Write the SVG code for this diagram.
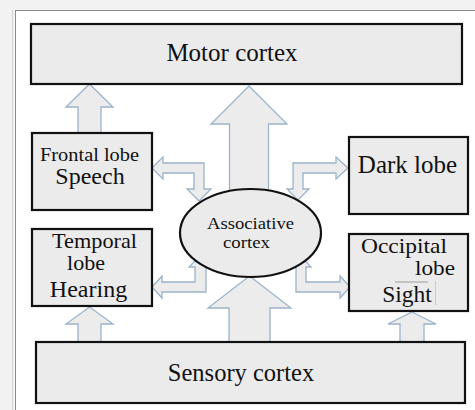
<svg xmlns="http://www.w3.org/2000/svg" width="475" height="410" viewBox="0 0 475 410">
  <style>
    .box { fill: #ebebeb; stroke: #111; stroke-width: 2.2; }
    .arrow { fill: #ececec; stroke: #9cb3ca; stroke-width: 1.3; stroke-linejoin: miter; }
    .lbl { font-family: "Liberation Serif", "Times New Roman", serif; fill: #111; }
  </style>

  <!-- page background and frame -->
  <rect x="0" y="0" width="475" height="410" fill="#f2f2f2"/>
  <rect x="15.5" y="10.5" width="470" height="410" fill="#ffffff" stroke="#8c8c8c" stroke-width="1"/>
  <line x1="12.5" y1="10" x2="12.5" y2="410" stroke="#d4d4d4" stroke-width="1"/>

  <!-- connectors (drawn under the boxes and the ellipse) -->
  <g id="connectors">
    <!-- frontal lobe -> motor cortex -->
    <path class="arrow" d="M89.5,84 L113,107 L101,107 L101,133 L78,133 L78,107 L66,107 Z"/>
    <!-- associative cortex -> motor cortex -->
    <path class="arrow" d="M249,86 L287,124 L268.5,124 L268.5,200 L229.5,200 L229.5,124 L211,124 Z"/>
    <!-- sensory cortex -> associative cortex -->
    <path class="arrow" d="M249.5,276 L291,308 L270,308 L270,342 L229,342 L229,308 L208,308 Z"/>
    <!-- sensory cortex -> temporal lobe -->
    <path class="arrow" d="M89.5,307 L113,324 L101,324 L101,342 L78,342 L78,324 L66,324 Z"/>
    <!-- sensory cortex -> occipital lobe -->
    <path class="arrow" d="M412,312 L436,324 L424,324 L424,342 L400,342 L400,324 L388,324 Z"/>
    <!-- frontal lobe <-> associative cortex -->
    <path class="arrow" d="M152,168 L163,157 L163,163 L204,163 L204,189 L211,189 L199,201 L187,189 L194,189 L194,173 L163,173 L163,179 Z"/>
    <!-- dark lobe <-> associative cortex -->
    <path class="arrow" d="M348,168 L336,157 L336,163 L293,163 L293,189 L287,189 L298,200 L309,189 L303,189 L303,173 L336,173 L336,179 Z"/>
    <!-- temporal lobe <-> associative cortex -->
    <path class="arrow" d="M152,287 L162,276 L162,282 L195,282 L195,267 L189,267 L200,256 L211,267 L206,267 L206,292 L162,292 L162,298 Z"/>
    <!-- occipital lobe <-> associative cortex -->
    <path class="arrow" d="M350,287 L340,276 L340,282 L306,282 L306,267 L311,267 L301,256 L291,267 L296,267 L296,292 L340,292 L340,298 Z"/>
  </g>

  <g id="motor-cortex">
    <rect class="box" x="31" y="24" width="431" height="60"/>
    <text class="lbl" x="232" y="61" font-size="25" text-anchor="middle">Motor cortex</text>
  </g>

  <g id="frontal-lobe">
    <rect class="box" x="32" y="133" width="120" height="77"/>
    <text class="lbl" x="89.5" y="161" font-size="19.5" text-anchor="middle" textLength="99" lengthAdjust="spacingAndGlyphs">Frontal lobe</text>
    <text class="lbl" x="90" y="184" font-size="24" text-anchor="middle">Speech</text>
  </g>

  <g id="temporal-lobe">
    <rect class="box" x="32" y="229" width="120" height="77"/>
    <text class="lbl" x="94.5" y="248" font-size="21" text-anchor="middle" textLength="85" lengthAdjust="spacingAndGlyphs">Temporal</text>
    <text class="lbl" x="86" y="270" font-size="21" text-anchor="middle" textLength="38" lengthAdjust="spacingAndGlyphs">lobe</text>
    <text class="lbl" x="88.5" y="297" font-size="24" text-anchor="middle">Hearing</text>
  </g>

  <g id="dark-lobe">
    <rect class="box" x="349" y="137" width="119" height="77"/>
    <text class="lbl" x="407.5" y="173" font-size="25" text-anchor="middle">Dark lobe</text>
  </g>

  <g id="occipital-lobe">
    <rect class="box" x="349" y="234" width="119" height="77"/>
    <text class="lbl" x="404" y="253" font-size="22" text-anchor="middle" textLength="86" lengthAdjust="spacingAndGlyphs">Occipital</text>
    <text class="lbl" x="455" y="275" font-size="22" text-anchor="end" textLength="40" lengthAdjust="spacingAndGlyphs">lobe</text>
    <text class="lbl" x="407" y="302" font-size="23.5" text-anchor="middle">Sight</text>
    <line x1="395" y1="282" x2="428" y2="282" stroke="#8a8a8a" stroke-width="0.8"/>
    <line x1="435.5" y1="281" x2="435.5" y2="305" stroke="#c4c4c4" stroke-width="0.8"/>
  </g>

  <g id="sensory-cortex">
    <rect class="box" x="36" y="342" width="429" height="61"/>
    <text class="lbl" x="241" y="381" font-size="24.5" text-anchor="middle">Sensory cortex</text>
  </g>

  <g id="associative-cortex">
    <ellipse cx="250.5" cy="233" rx="70.5" ry="44" fill="#ebebeb" stroke="#111" stroke-width="2.2"/>
    <text class="lbl" x="250.5" y="228.5" font-size="16" text-anchor="middle" textLength="87" lengthAdjust="spacingAndGlyphs">Associative</text>
    <text class="lbl" x="246.5" y="248" font-size="16" text-anchor="middle" textLength="47" lengthAdjust="spacingAndGlyphs">cortex</text>
  </g>
</svg>
